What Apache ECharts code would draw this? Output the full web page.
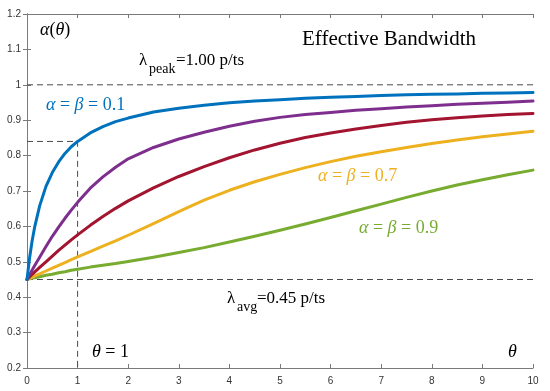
<!DOCTYPE html>
<html><head><meta charset="utf-8">
<script src="https://cdn.jsdelivr.net/npm/echarts@6/dist/echarts.min.js"></script>
<style>html,body{margin:0;padding:0;background:#fff}#c{width:550px;height:391px}</style>
</head><body><div id="c"></div>
<script>
// x positions (theta) shared by all curves
const theta = [0, 0.05, 0.1, 0.15, 0.25, 0.375, 0.5, 0.625, 0.75, 0.875, 1, 1.25, 1.5, 1.75, 2, 2.5, 3, 3.5, 4, 4.5, 5, 5.5, 6, 6.5, 7, 7.5, 8, 8.5, 9, 9.5, 10];
const ab01 = [0.45, 0.510, 0.558, 0.597, 0.658, 0.713, 0.752, 0.782, 0.806, 0.825, 0.840, 0.864, 0.882, 0.896, 0.906, 0.923, 0.934, 0.942, 0.949, 0.954, 0.958, 0.962, 0.965, 0.967, 0.970, 0.972, 0.973, 0.974, 0.976, 0.977, 0.978];
const ab03 = [0.45, 0.463, 0.476, 0.489, 0.513, 0.543, 0.572, 0.598, 0.623, 0.646, 0.668, 0.708, 0.740, 0.767, 0.791, 0.823, 0.847, 0.866, 0.883, 0.897, 0.908, 0.916, 0.922, 0.928, 0.932, 0.937, 0.941, 0.945, 0.948, 0.951, 0.954];
const ab05 = [0.45, 0.457, 0.464, 0.471, 0.484, 0.500, 0.516, 0.532, 0.547, 0.562, 0.576, 0.603, 0.628, 0.651, 0.672, 0.709, 0.741, 0.769, 0.794, 0.816, 0.835, 0.851, 0.864, 0.875, 0.885, 0.894, 0.901, 0.907, 0.912, 0.916, 0.919];
const ab07 = [0.45, 0.453, 0.456, 0.460, 0.466, 0.474, 0.482, 0.490, 0.498, 0.506, 0.514, 0.529, 0.544, 0.559, 0.575, 0.608, 0.642, 0.674, 0.702, 0.726, 0.747, 0.766, 0.783, 0.798, 0.811, 0.823, 0.834, 0.844, 0.853, 0.861, 0.869];
const ab09 = [0.45, 0.452, 0.454, 0.455, 0.458, 0.462, 0.465, 0.469, 0.472, 0.476, 0.479, 0.485, 0.490, 0.495, 0.501, 0.513, 0.526, 0.540, 0.556, 0.572, 0.589, 0.607, 0.625, 0.644, 0.663, 0.682, 0.700, 0.717, 0.732, 0.746, 0.759];
const seriesNames = ['α = β = 0.1', 'α = β = 0.3', 'α = β = 0.5', 'α = β = 0.7', 'α = β = 0.9'];
const seriesColors = ['#0072BD', '#7E2F8E', '#A2142F', '#EDB120', '#77AC30'];
const peakRate = 1.00;
const avgRate = 0.45;
const markTheta = 1;
const markValue = 0.84;
const xTicks = [0, 1, 2, 3, 4, 5, 6, 7, 8, 9, 10];
const yTicks = [0.2, 0.3, 0.4, 0.5, 0.6, 0.7, 0.8, 0.9, 1, 1.1, 1.2];

const curves = [ab01, ab03, ab05, ab07, ab09];
const serif = '"Liberation Serif", "Times New Roman", serif';
const axisGray = '#7a7a7a';
const dash = { color: '#4a4a4a', width: 1, type: [6, 4] };

const series = [];
// dashed reference lines
series.push({ type: 'line', data: [[xTicks[0], peakRate], [xTicks[xTicks.length-1], peakRate]], symbol: 'none', lineStyle: dash, z: 1, silent: true });
series.push({ type: 'line', data: [[xTicks[0], avgRate], [xTicks[xTicks.length-1], avgRate]], symbol: 'none', lineStyle: dash, z: 1, silent: true });
series.push({ type: 'line', data: [[xTicks[0], markValue], [markTheta, markValue], [markTheta, yTicks[0]]], symbol: 'none', lineStyle: dash, z: 1, silent: true });
curves.forEach((vals, i) => {
  series.push({
    name: seriesNames[i], type: 'line', data: theta.map((t, k) => [t, vals[k]]),
    symbol: 'none', smooth: false,
    lineStyle: { color: seriesColors[i], width: 3, join: 'round', cap: 'round' }, z: 10 - i
  });
});

const txt = (x, y, text, size, color, italic, extra) => Object.assign({
  type: 'text', left: x, top: y, z: 100,
  style: { text, fontFamily: serif, fontSize: size, fill: color, fontStyle: italic ? 'italic' : 'normal' }
}, extra || {});

const rt = (x, y, parts, size, color) => ({
  type: 'text', left: x, top: y, z: 100,
  style: {
    text: parts.map(p => '{' + (p[1] ? 'i' : 'n') + '|' + p[0] + '}').join(''),
    fill: color,
    rich: {
      i: { fontFamily: serif, fontSize: size, fontStyle: 'italic', fill: color },
      n: { fontFamily: serif, fontSize: size, fill: color }
    }
  }
});
const abLabel = (x, y, v, color) => rt(x, y, [['α', 1], [' = ', 0], ['β', 1], [' = ' + v, 0]], 18, color);

const chart = echarts.init(document.getElementById('c'), null, { renderer: 'canvas' });
const axisCommon = {
  type: 'value', splitLine: { show: false },
  axisLine: { show: true, lineStyle: { color: axisGray, width: 1 } },
  axisTick: { show: true, inside: true, length: 4, lineStyle: { color: axisGray } }
};
chart.setOption({
  animation: false,
  backgroundColor: '#fff',
  grid: { left: 27, right: 17, top: 14, bottom: 23, containLabel: false },
  xAxis: [
    Object.assign({}, axisCommon, { min: 0, max: 10, interval: 1, position: 'bottom',
      axisLabel: { color: '#333', fontSize: 10, fontFamily: 'Liberation Sans, Arial, sans-serif', margin: 8 } }),
    Object.assign({}, axisCommon, { min: 0, max: 10, interval: 1, position: 'top', axisLabel: { show: false } })
  ],
  yAxis: [
    Object.assign({}, axisCommon, { min: 0.2, max: 1.2, interval: 0.1, position: 'left',
      axisLabel: { color: '#333', fontSize: 10, fontFamily: 'Liberation Sans, Arial, sans-serif', margin: 6,
        formatter: v => String(Math.round(v * 10) / 10) } }),
    Object.assign({}, axisCommon, { min: 0.2, max: 1.2, interval: 0.1, position: 'right', axisLabel: { show: false } })
  ],
  series: series,
  graphic: [
    rt(40, 21, [['α', 1], ['(', 0], ['θ', 1], [')', 0]], 18, '#000'),
    txt(302, 29, 'Effective Bandwidth', 21, '#000', false),
    txt(139, 52, 'λ', 17, '#000', false),
    txt(149, 62, 'peak', 14, '#000', false),
    txt(176, 52, '=1.00 p/ts', 17, '#000', false),
    txt(227, 290, 'λ', 17, '#000', false),
    txt(237, 300, 'avg', 14, '#000', false),
    txt(257, 290, '=0.45 p/ts', 17, '#000', false),
    abLabel(46, 96, '0.1', seriesColors[0]),
    abLabel(318, 167, '0.7', seriesColors[3]),
    abLabel(359, 219, '0.9', seriesColors[4]),
    rt(92, 343, [['θ', 1], [' = 1', 0]], 18, '#000'),
    rt(508, 343, [['θ', 1]], 18, '#000')
  ]
});
</script></body></html>
